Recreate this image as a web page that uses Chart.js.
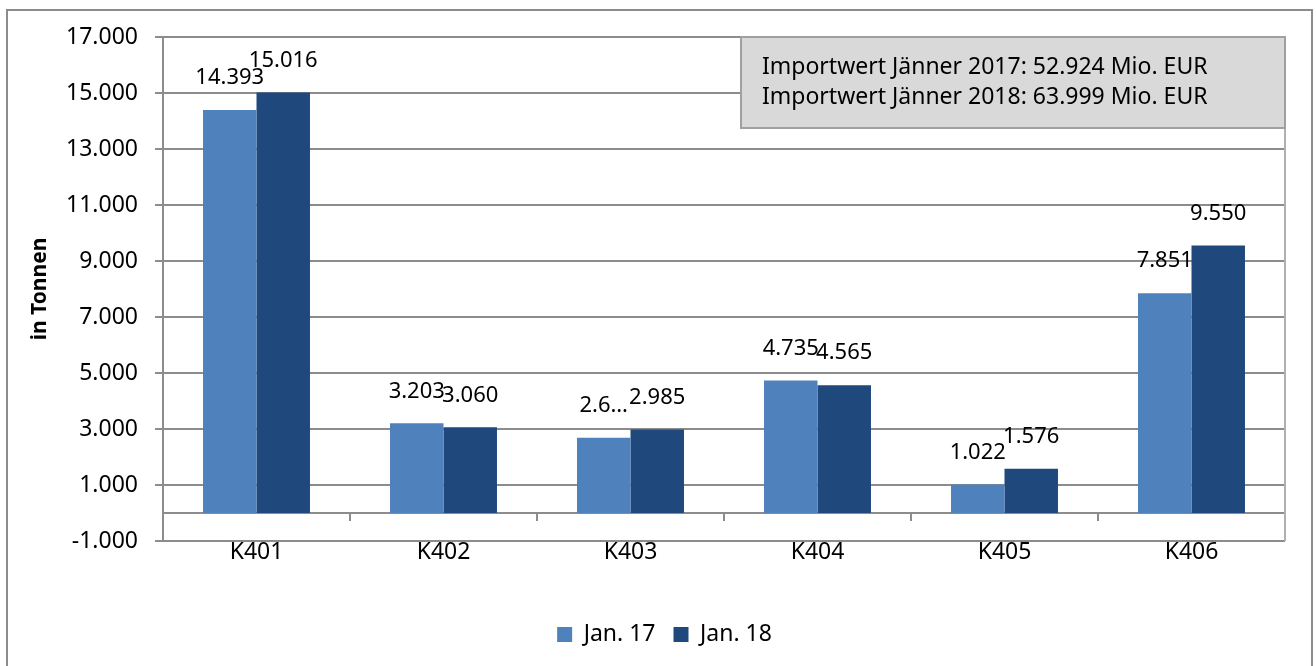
<!DOCTYPE html>
<html>
<head>
<meta charset="utf-8">
<script src="https://cdn.jsdelivr.net/npm/chart.js@4"></script>
<style>
    body { margin: 0; background: #fff; }
    #wrap { width: 1316px; height: 666px; }
</style>
</head>
<body>
<div id="wrap"><canvas id="chart"></canvas></div>
<script>
// Daten
const categories = ['K401', 'K402', 'K403', 'K404', 'K405', 'K406'];
const jan17 = [14393, 3203, 2690, 4735, 1022, 7851];
const jan18 = [15016, 3060, 2985, 4565, 1576, 9550];
const seriesNames = ['Jan. 17', 'Jan. 18'];
const yTicks = [-1000, 1000, 3000, 5000, 7000, 9000, 11000, 13000, 15000, 17000];
const noteLines = [
    'Importwert Jänner 2017: 52.924 Mio. EUR',
    'Importwert Jänner 2018: 63.999 Mio. EUR'
];
// Excel hat diese Beschriftung abgeschnitten
const cutLabels = { '0-2': '2.6…' };

const FONT = '"Noto Sans", "Open Sans", sans-serif';
const GRID = '#8c8c8c';
const fmt = v => v.toLocaleString('de-DE');

// Rahmen, Nulllinie, Markierungen, Infobox und Werte
const decoPlugin = {
    id: 'deco',
    afterLayout(chart) {
        // Legende etwas nach rechts schieben wie im Original
        if (chart.legend) {
            chart.legend.left += 22;
            chart.legend.right += 22;
        }
    },
    beforeDraw(chart) {
        const ctx = chart.ctx;
        ctx.save();
        ctx.fillStyle = '#fff';
        ctx.fillRect(0, 0, chart.width, chart.height);
        ctx.strokeStyle = GRID;
        ctx.lineWidth = 2;
        ctx.strokeRect(7, 10, 1305, 700);
        ctx.restore();
    },
    beforeDatasetsDraw(chart) {
        const { ctx, chartArea: a, scales } = chart;
        const y0 = scales.y.getPixelForValue(0);
        ctx.save();
        ctx.strokeStyle = GRID;
        ctx.lineWidth = 2;
        ctx.beginPath();
        ctx.moveTo(a.left, y0);
        ctx.lineTo(a.right, y0);
        for (let i = 1; i < categories.length; i++) {
            const x = Math.round(scales.x.getPixelForValue(i - 0.5));
            ctx.moveTo(x, y0);
            ctx.lineTo(x, y0 + 8);
        }
        ctx.stroke();
        ctx.strokeStyle = '#b0b0b0';
        ctx.beginPath();
        ctx.moveTo(a.right, a.top);
        ctx.lineTo(a.right, a.bottom);
        ctx.stroke();
        ctx.restore();
    },
    afterDatasetsDraw(chart) {
        const ctx = chart.ctx;
        ctx.save();
        ctx.font = '22px ' + FONT;
        ctx.fillStyle = '#000';
        ctx.textAlign = 'center';
        ctx.textBaseline = 'middle';
        chart.data.datasets.forEach((ds, di) => {
            chart.getDatasetMeta(di).data.forEach((bar, i) => {
                const txt = cutLabels[di + '-' + i] || fmt(ds.data[i]);
                ctx.fillText(txt, bar.x, bar.y - 32);
            });
        });

        // Infobox oben rechts
        ctx.fillStyle = '#d9d9d9';
        ctx.fillRect(741, 37, 544, 91);
        ctx.strokeStyle = '#a0a0a0';
        ctx.lineWidth = 2;
        ctx.strokeRect(741, 37, 544, 91);
        ctx.fillStyle = '#000';
        ctx.textAlign = 'left';
        ctx.font = '23px ' + FONT;
        noteLines.forEach((t, i) => ctx.fillText(t, 762, 67 + i * 30));
        ctx.restore();
    }
};

const chart = new Chart(document.getElementById('chart'), {
    type: 'bar',
    data: {
        labels: categories,
        datasets: [
            {
                label: seriesNames[0],
                data: jan17,
                backgroundColor: '#4f81bd',
                categoryPercentage: 0.572,
                barPercentage: 1.0
            },
            {
                label: seriesNames[1],
                data: jan18,
                backgroundColor: '#1f497d',
                categoryPercentage: 0.572,
                barPercentage: 1.0
            }
        ]
    },
    options: {
        responsive: true,
        maintainAspectRatio: false,
        animation: false,
        layout: { padding: { top: 37, right: 31, bottom: 10, left: 0 } },
        scales: {
            x: {
                grid: { display: false, drawTicks: false },
                border: { display: false },
                ticks: { color: '#000', font: { family: FONT, size: 23 }, padding: -2 },
                afterFit: s => { s.height = 64; }
            },
            y: {
                min: -1000,
                max: 17000,
                afterBuildTicks: s => { s.ticks = yTicks.map(v => ({ value: v })); },
                grid: { color: GRID, lineWidth: 2, tickLength: 8 },
                border: { color: GRID, width: 2 },
                ticks: {
                    color: '#000',
                    font: { family: FONT, size: 23 },
                    padding: 17,
                    callback: v => fmt(v)
                },
                title: {
                    display: true,
                    text: 'in Tonnen',
                    color: '#000',
                    font: { family: FONT, size: 21, weight: 'bold' },
                    padding: { top: 27, bottom: 0 }
                },
                afterFit: s => { s.width = 163; }
            }
        },
        plugins: {
            legend: {
                position: 'bottom',
                labels: {
                    color: '#000',
                    font: { family: FONT, size: 23 },
                    boxWidth: 15,
                    boxHeight: 15,
                    padding: 18
                }
            },
            tooltip: { enabled: false }
        }
    },
    plugins: [decoPlugin]
});
</script>
</body>
</html>
